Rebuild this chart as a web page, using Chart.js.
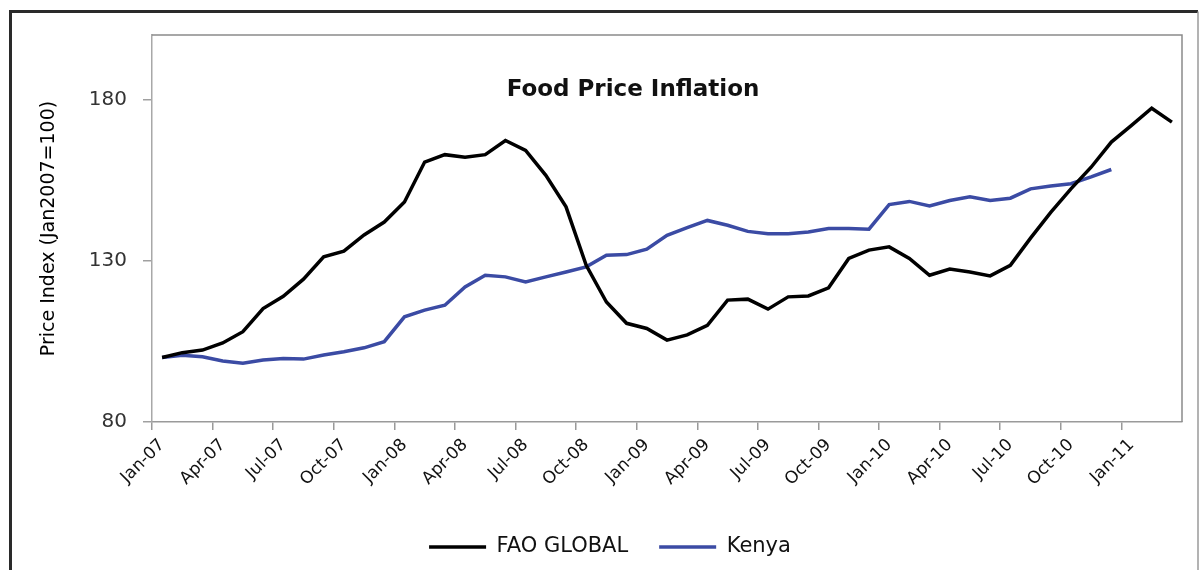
<!DOCTYPE html>
<html>
<head>
<meta charset="utf-8">
<script src="https://cdn.jsdelivr.net/npm/chart.js@4"></script>
<style>
  html, body { margin: 0; padding: 0; background: #fff; }
  #wrap { width: 1203px; height: 570px; }
</style>
</head>
<body>
<div id="wrap"><canvas id="foodChart" width="1203" height="570"></canvas></div>
<script>
// Months Jan-07 .. Mar-11
const months = [
  "Jan-07", "Feb-07", "Mar-07", "Apr-07", "May-07", "Jun-07", "Jul-07", "Aug-07", "Sep-07", "Oct-07", "Nov-07", "Dec-07",
  "Jan-08", "Feb-08", "Mar-08", "Apr-08", "May-08", "Jun-08", "Jul-08", "Aug-08", "Sep-08", "Oct-08", "Nov-08", "Dec-08",
  "Jan-09", "Feb-09", "Mar-09", "Apr-09", "May-09", "Jun-09", "Jul-09", "Aug-09", "Sep-09", "Oct-09", "Nov-09", "Dec-09",
  "Jan-10", "Feb-10", "Mar-10", "Apr-10", "May-10", "Jun-10", "Jul-10", "Aug-10", "Sep-10", "Oct-10", "Nov-10", "Dec-10",
  "Jan-11", "Feb-11", "Mar-11"
];

// FAO global food price index (Jan2007=100)
const faoGlobal = [
  100, 101.5, 102.3, 104.5, 108, 115.2, 119, 124.3, 131.2, 133, 138, 142,
  148.2, 160.6, 162.9, 162.1, 162.9, 167.3, 164.2, 156.5, 146.7, 128.6, 117.2, 110.6,
  109, 105.4, 107, 110, 117.8, 118.1, 115, 118.8, 119.1, 121.6, 130.7, 133.3,
  134.3, 130.7, 125.5, 127.4, 126.5, 125.3, 128.6, 137, 145, 152.3, 159, 166.8,
  172, 177.3, 173
];

// Kenya food price index (ends Dec-10)
const kenya = [
  100, 100.7, 100.2, 98.9, 98.2, 99.2, 99.7, 99.5, 100.8, 101.8, 103, 104.9,
  112.6, 114.7, 116.2, 121.9, 125.5, 125, 123.4, 125, 126.5, 128.1, 131.7, 131.9,
  133.6, 137.9, 140.3, 142.5, 141, 139.1, 138.4, 138.4, 138.9, 140, 140, 139.8,
  147.4, 148.4, 147, 148.7, 149.8, 148.7, 149.4, 152.3, 153.2, 153.9, 156, 158.3,
  null, null, null
];

const yTicks = [80, 130, 180];
const chartTitle = "Food Price Inflation";
const yTitle = "Price Index (Jan2007=100)";

const FONT = "'DejaVu Sans', sans-serif";

// рамка, фон и заголовок внутри области графика
const framePlugin = {
  id: "frame",
  beforeDraw(chart) {
    const ctx = chart.ctx;
    ctx.save();
    ctx.fillStyle = "#ffffff";
    ctx.fillRect(0, 0, chart.width, chart.height);
    // outer picture frame
    ctx.strokeStyle = "#2a2a2a";
    ctx.lineWidth = 3;
    ctx.beginPath();
    ctx.moveTo(10.5, chart.height + 5);
    ctx.lineTo(10.5, 11.5);
    ctx.lineTo(chart.width - 5, 11.5);
    ctx.stroke();
    ctx.strokeStyle = "#9a9a9a";
    ctx.lineWidth = 1.5;
    ctx.beginPath();
    ctx.moveTo(chart.width - 5, 11.5);
    ctx.lineTo(chart.width - 5, chart.height);
    ctx.stroke();
    ctx.restore();
  },
  afterDraw(chart) {
    const ctx = chart.ctx;
    const a = chart.chartArea;
    ctx.save();
    // plot area box (top and right sides)
    ctx.strokeStyle = "#8a8a8a";
    ctx.lineWidth = 1.5;
    ctx.beginPath();
    ctx.moveTo(a.left, a.top);
    ctx.lineTo(a.right, a.top);
    ctx.lineTo(a.right, a.bottom);
    ctx.stroke();
    // title
    ctx.fillStyle = "#111";
    ctx.font = "bold 23px " + FONT;
    ctx.textAlign = "center";
    ctx.textBaseline = "middle";
    ctx.fillText(chartTitle, a.left + (a.right - a.left) * 0.467, a.top + 55);
    ctx.restore();
  },
};

function createChart(ctx) {
  new Chart(ctx, {
    type: "line",
    data: {
      labels: months,
      datasets: [
        {
          label: "FAO GLOBAL",
          data: faoGlobal,
          borderColor: "#000000",
          backgroundColor: "#000000",
          borderWidth: 3.5,
          pointRadius: 0,
          tension: 0,
        },
        {
          label: "Kenya",
          data: kenya,
          borderColor: "#3b4ba4",
          backgroundColor: "#3b4ba4",
          borderWidth: 3.5,
          pointRadius: 0,
          tension: 0,
          spanGaps: false,
        },
      ],
    },
    options: {
      responsive: false,
      animation: false,
      layout: { padding: { top: 35, right: 21, left: 38, bottom: 2.5 } },
      plugins: {
        tooltip: { enabled: false },
        legend: {
          position: "bottom",
          labels: {
            usePointStyle: true,
            pointStyle: "line",
            pointStyleWidth: 57,
            padding: 31,
            color: "#111",
            font: { family: FONT, size: 21 },
          },
        },
      },
      scales: {
        x: {
          type: "category",
          offset: true,
          afterFit(scale) { scale.height = 83.5; },
          grid: {
            offset: true,
            drawOnChartArea: false,
            drawTicks: true,
            tickLength: 8,
            lineWidth: 1.5,
            color: (c) => (c.index !== undefined && c.index % 3 === 0 ? "#9a9a9a" : "rgba(0,0,0,0)"),
          },
          border: { display: true, color: "#9a9a9a", width: 1.5 },
          ticks: {
            autoSkip: false,
            maxRotation: 45,
            minRotation: 45,
            padding: 5,
            color: "#111",
            font: { family: FONT, size: 17 },
            callback: (v, i) => (i % 3 === 0 ? months[i] : ""),
          },
        },
        y: {
          min: 80,
          max: 200,
          afterFit(scale) { scale.width = 114; },
          afterBuildTicks(scale) {
            scale.ticks = yTicks.map((v) => ({ value: v }));
          },
          grid: {
            drawOnChartArea: false,
            drawTicks: true,
            tickLength: 9,
            lineWidth: 1.5,
            color: "#a0a0a0",
          },
          border: { display: true, color: "#a8a8a8", width: 1.5 },
          ticks: {
            padding: 16,
            color: "#333",
            font: { family: FONT, size: 20 },
          },
          title: {
            display: true,
            text: yTitle,
            color: "#000",
            padding: { top: 0, bottom: 0 },
            font: { family: FONT, size: 19 },
          },
        },
      },
    },
    plugins: [framePlugin],
  });
}

createChart(document.getElementById("foodChart"));
</script>
</body>
</html>
